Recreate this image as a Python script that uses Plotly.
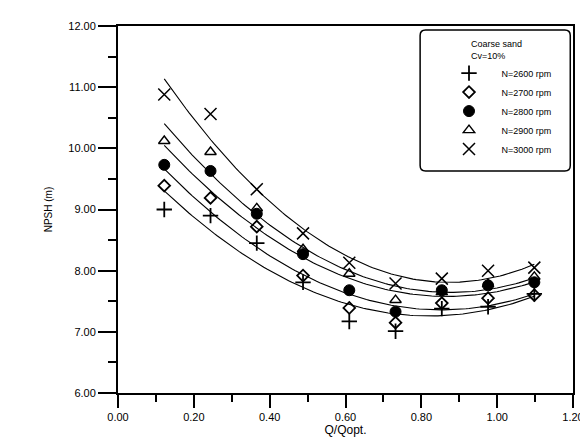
import numpy as np
import plotly.graph_objects as go

# ---- data ----
q_ratio = [0.122, 0.244, 0.366, 0.488, 0.610, 0.732, 0.854, 0.976, 1.098]
npsh_2600 = [9.00, 8.90, 8.45, 7.81, 7.17, 7.01, 7.38, 7.41, 7.62]
npsh_2700 = [9.39, 9.19, 8.72, 7.92, 7.39, 7.15, 7.47, 7.55, 7.60]
npsh_2800 = [9.73, 9.63, 8.93, 8.27, 7.68, 7.33, 7.68, 7.76, 7.81]
npsh_2900 = [10.12, 9.94, 9.02, 8.35, 7.95, 7.52, 7.65, 7.78, 7.90]
npsh_3000 = [10.88, 10.56, 9.33, 8.61, 8.13, 7.79, 7.87, 8.00, 8.05]
series_names = ["N=2600 rpm", "N=2700 rpm", "N=2800 rpm", "N=2900 rpm", "N=3000 rpm"]
x_ticks = [0.0, 0.2, 0.4, 0.6, 0.8, 1.0, 1.2]
x_ticklabels = ["0.00", "0.20", "0.40", "0.60", "0.80", "1.00", "1.20"]
y_ticks = [6, 7, 8, 9, 10, 11, 12]
y_ticklabels = ["6.00", "7.00", "8.00", "9.00", "10.00", "11.00", "12.00"]

series = [npsh_2600, npsh_2700, npsh_2800, npsh_2900, npsh_3000]
styles = [
    dict(symbol="cross-thin-open", size=11, line=dict(width=1.8, color="black"), color="black"),
    dict(symbol="diamond-open", size=9, line=dict(width=1.8, color="black"), color="black"),
    dict(symbol="circle", size=11, line=dict(width=1, color="black"), color="black"),
    dict(symbol="triangle-up-open", size=10, line=dict(width=1.4, color="black"), color="black"),
    dict(symbol="x-thin-open", size=12, line=dict(width=1.5, color="black"), color="black"),
]

fig = go.Figure()
xs = np.array(q_ratio)
xfit = np.linspace(xs.min(), xs.max(), 120)
for vals in series:
    coef = np.polyfit(xs, np.array(vals), 2)
    fig.add_trace(go.Scatter(x=xfit, y=np.polyval(coef, xfit), mode="lines",
                             line=dict(color="black", width=1.1), showlegend=False,
                             hoverinfo="skip"))
for name, vals, st in zip(series_names, series, styles):
    fig.add_trace(go.Scatter(x=q_ratio, y=vals, mode="markers", name=name, marker=st))

# rounded legend frame (paper coordinates)
x0, x1, y0, y1 = 0.664, 0.994, 0.605, 0.989
rx, ry = 0.012, 0.015
frame = (f"M {x0+rx},{y1} L {x1-rx},{y1} Q {x1},{y1} {x1},{y1-ry} "
         f"L {x1},{y0+ry} Q {x1},{y0} {x1-rx},{y0} L {x0+rx},{y0} "
         f"Q {x0},{y0} {x0},{y0+ry} L {x0},{y1-ry} Q {x0},{y1} {x0+rx},{y1} Z")

font = "Liberation Sans, Arial, sans-serif"
fig.update_layout(
    width=588, height=438,
    margin=dict(l=110, r=22, t=14, b=49),
    paper_bgcolor="white", plot_bgcolor="white",
    font=dict(family=font, color="black", size=11),
    shapes=[dict(type="path", path=frame, xref="paper", yref="paper",
                 line=dict(color="black", width=1.5), fillcolor="white", layer="above")],
    legend=dict(
        x=0.70, y=0.975, xanchor="left", yanchor="top",
        bgcolor="rgba(0,0,0,0)", borderwidth=0,
        font=dict(size=9, family=font, color="black"),
        title=dict(text="Coarse sand<br>Cv=10%", side="top center",
                   font=dict(size=9, family=font, color="black")),
        itemwidth=55, tracegroupgap=2,
    ),
)
fig.update_xaxes(
    range=[0, 1.2], tickvals=x_ticks, ticktext=x_ticklabels,
    ticks="outside", ticklen=13, tickwidth=2, tickcolor="black",
    minor=dict(dtick=0.1, ticks="outside", ticklen=7, tickwidth=1.5, tickcolor="black"),
    showline=True, linecolor="black", linewidth=2, mirror=True,
    showgrid=False, zeroline=False,
    title=dict(text="Q/Qopt.", font=dict(size=12, family=font), standoff=2),
    tickfont=dict(size=11, family=font),
)
fig.update_yaxes(
    range=[6, 12], tickvals=y_ticks, ticktext=y_ticklabels,
    ticks="outside", ticklen=18, tickwidth=2, tickcolor="black",
    minor=dict(dtick=0.5, ticks="outside", ticklen=8, tickwidth=1.5, tickcolor="black"),
    showline=True, linecolor="black", linewidth=2, mirror=True,
    showgrid=False, zeroline=False,
    title=dict(text="NPSH (m)", font=dict(size=10, family=font), standoff=14),
    tickfont=dict(size=11, family=font),
)
fig.write_html("out.html")
